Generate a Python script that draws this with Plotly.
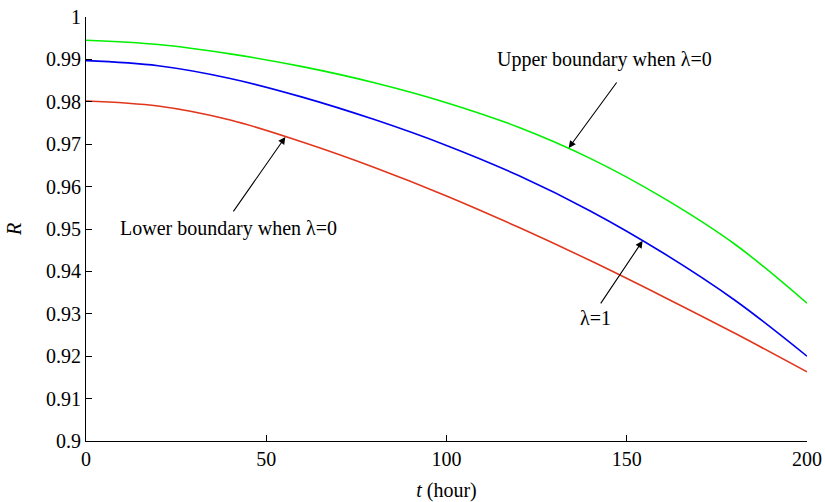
import plotly.graph_objects as go

t_hours = [0, 20, 40, 60, 80, 100, 120, 140, 160, 180, 200]
upper_lambda0 = [0.9945, 0.9935, 0.9913, 0.9883, 0.9845, 0.9798, 0.9740, 0.9666, 0.9574, 0.9464, 0.9325]
lambda1 = [0.9897, 0.9885, 0.9855, 0.9811, 0.9758, 0.9697, 0.9626, 0.9542, 0.9444, 0.9332, 0.9200]
lower_lambda0 = [0.9802, 0.9790, 0.9757, 0.9705, 0.9645, 0.9578, 0.9504, 0.9425, 0.9341, 0.9254, 0.9163]

x_ticks = [0, 50, 100, 150, 200]
x_ticktext = ["0", "50", "100", "150", "200"]
y_ticks = [0.9, 0.91, 0.92, 0.93, 0.94, 0.95, 0.96, 0.97, 0.98, 0.99, 1.0]
y_ticktext = ["0.9", "0.91", "0.92", "0.93", "0.94", "0.95", "0.96", "0.97", "0.98", "0.99", "1"]

FONT = "Liberation Serif"

fig = go.Figure()
fig.add_trace(go.Scatter(x=t_hours, y=upper_lambda0, mode="lines", line=dict(color="#00F000", width=1.6, shape="spline"), showlegend=False))
fig.add_trace(go.Scatter(x=t_hours, y=lambda1, mode="lines", line=dict(color="#0000F0", width=1.6, shape="spline"), showlegend=False))
fig.add_trace(go.Scatter(x=t_hours, y=lower_lambda0, mode="lines", line=dict(color="#E2361C", width=1.6, shape="spline"), showlegend=False))

arrows = [
    # (tip_x, tip_y, tail_x, tail_y)
    (133.9, 0.9691, 147.5, 0.9849),
    (55.3, 0.9717, 40.6, 0.9538),
    (154.4, 0.9472, 142.5, 0.9321),
]
for tx, ty, ax_, ay_ in arrows:
    fig.add_annotation(x=tx, y=ty, ax=ax_, ay=ay_, xref="x", yref="y", axref="x", ayref="y",
                       text="", showarrow=True, arrowhead=2, arrowsize=1.3, arrowwidth=1.1, arrowcolor="black")

labels = [
    ("Upper boundary when λ=0", 143.75, 0.9899),
    ("Lower boundary when λ=0", 39.6, 0.9502),
    ("λ=1", 141.4, 0.9290),
]
for txt, lx, ly in labels:
    fig.add_annotation(x=lx, y=ly, xref="x", yref="y", text=txt, showarrow=False,
                       font=dict(family=FONT, size=20, color="black"), xanchor="center", yanchor="middle")

axis_common = dict(showgrid=False, zeroline=False, showline=True, linecolor="black", linewidth=1.2,
                   ticks="inside", ticklen=6, tickwidth=1, tickcolor="black", automargin=False,
                   ticklabeloverflow="allow",
                   tickfont=dict(family=FONT, size=20, color="black"))

fig.update_xaxes(range=[0, 200], tickvals=x_ticks, ticktext=x_ticktext,
                 title=dict(text="<i>t</i> (hour)", font=dict(family=FONT, size=20, color="black"), standoff=16),
                 **axis_common)
fig.update_yaxes(range=[0.9, 1.0], tickvals=y_ticks, ticktext=y_ticktext,
                 title=dict(text="<i>R</i>", font=dict(family=FONT, size=20, color="black"), standoff=18),
                 **axis_common)

fig.update_layout(width=825, height=502, margin=dict(l=86, r=18, t=17, b=61),
                  plot_bgcolor="white", paper_bgcolor="white",
                  font=dict(family=FONT, size=20, color="black"))

# remove the default page margin so the figure fills the window exactly
fig.write_html("out.html", config={"displayModeBar": False},
               post_script="document.body.style.margin='0';document.body.style.overflow='hidden';")
